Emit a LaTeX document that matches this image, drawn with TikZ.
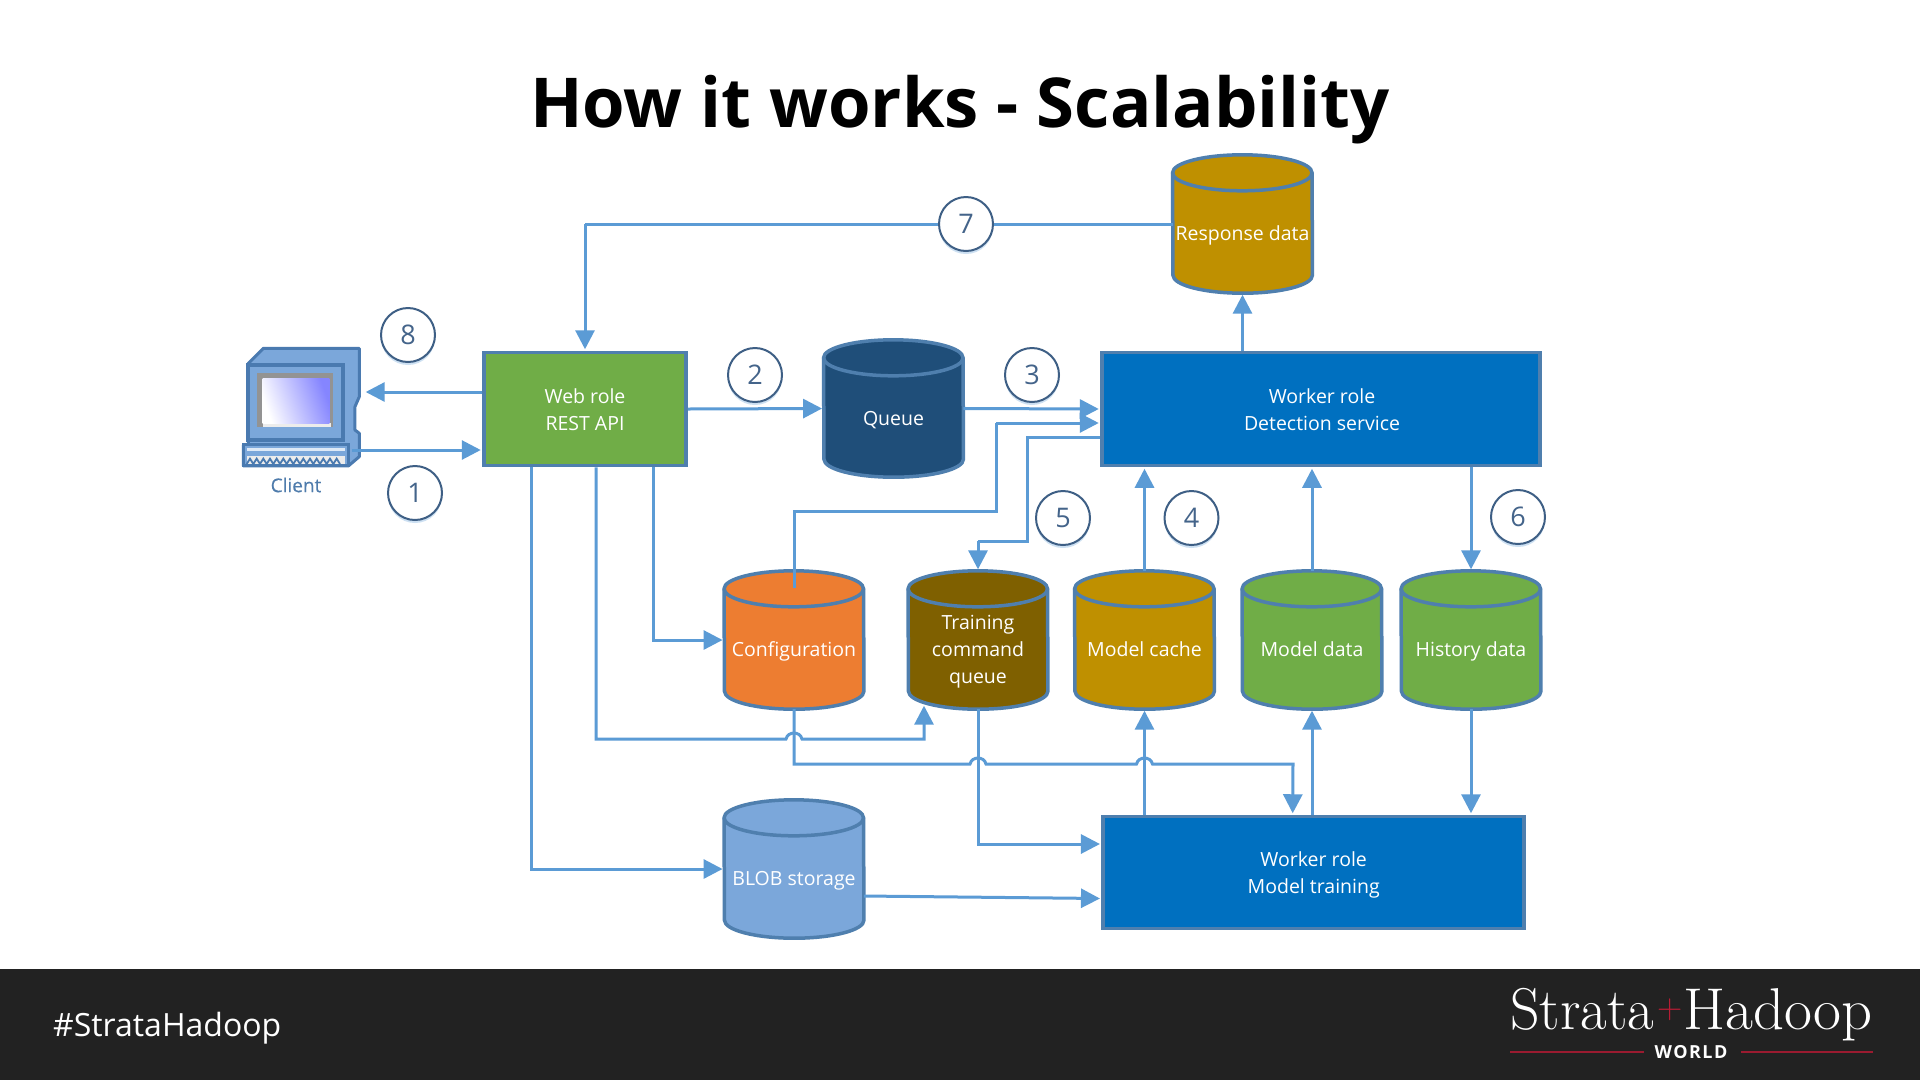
\documentclass[tikz,border=0pt]{standalone}
\usepackage{fontspec}
\usetikzlibrary{arrows.meta,shadows}
\newfontfamily\osans{Open Sans}
\definecolor{linec}{HTML}{5B9BD5}
\definecolor{rimc}{HTML}{4F7FAE}
\definecolor{digitc}{HTML}{44648A}
\definecolor{ringc}{HTML}{3E5F85}
\definecolor{bluebox}{HTML}{0070C0}
\definecolor{greenbox}{HTML}{70AD47}
\definecolor{orangec}{HTML}{ED7D31}
\definecolor{brownc}{HTML}{7F6000}
\definecolor{goldc}{HTML}{BF9000}
\definecolor{navyc}{HTML}{1F4E79}
\definecolor{blobc}{HTML}{7BA7DA}
\definecolor{barc}{HTML}{222222}
\definecolor{redc}{HTML}{9B1B30}
\definecolor{plusc}{HTML}{B81C34}
\definecolor{caseln}{HTML}{4A7AB0}
\definecolor{clientc}{HTML}{4F7CAC}
\definecolor{screenc}{HTML}{8585FF}
\tikzset{
  box/.style={draw=rimc,line width=3.5pt,inner sep=0pt,minimum height=113pt},
  cylbody/.style={inner sep=0pt,minimum width=139.5pt},
  rim/.style={draw=rimc,line width=3.5pt},
  lbl/.style={text=white,font=\osans\fontsize{19.5}{27}\selectfont,align=center,inner sep=0pt},
  conn/.style={draw=linec,line width=3pt},
  arr/.style={conn,-{Triangle[length=19pt,width=19pt]},shorten >=1.5pt},
  stepn/.style={circle,draw=ringc,line width=2pt,fill=white,minimum size=54pt,inner sep=0pt,text=digitc,font=\osans\fontsize{27}{27}\selectfont,
    drop shadow={shadow xshift=0pt,shadow yshift=-3pt,fill=linec,opacity=.3}},
}
\newcommand{\cyl}[6]{% name, cx, top, bottom, colour, label
  \node[cylbody,minimum height={(#4-#3-2)*1pt}] (#1) at (#2,{(#3+#4)/2}) {};
  \path[rim,fill=#5] ([yshift=-18pt]#1.north west) arc[x radius=69.75pt,y radius=18pt,start angle=180,end angle=0]
     -- ([yshift=18pt]#1.south east) arc[x radius=69.75pt,y radius=18pt,start angle=0,end angle=-180] -- cycle;
  \path[rim] ([yshift=-18pt]#1.north west) arc[x radius=69.75pt,y radius=18pt,start angle=180,end angle=360];
  \node[lbl] (#1t) at ([yshift=-11.3pt]#1.center) {#6};
}
\newcommand{\hop}[1]{-- ([xshift=-8pt]#1) .. controls ([xshift=-6pt,yshift=8pt]#1) and ([xshift=6pt,yshift=8pt]#1) .. ([xshift=8pt]#1)}
\begin{document}
\begin{tikzpicture}[x=1pt,y=-1pt]
\useasboundingbox (0,0) rectangle (1920,1080);
\fill[white] (0,0) rectangle (1920,1080);
\fill[barc] (0,969) rectangle (1920,1080);
\node[font=\osans\bfseries\fontsize{68.8}{70}\selectfont,inner sep=0pt] (title) at (960,110) {How it works - Scalability};

% computer icon
\node[inner sep=0pt,minimum width=117pt,minimum height=118pt] (client) at (301.5,407) {};
\begin{scope}[shift={(220,300)},x=.3333pt,y=-.3333pt]
  \fill[blobc,draw=caseln,line width=3pt,line join=round] (85,190) -- (130,145) -- (418,145) -- (418,290) -- (405,320) -- (405,390) -- (418,400) -- (418,470) -- (385,498) -- (70,498) -- (70,435) -- (85,435) -- cycle;
  \fill[blobc,draw=caseln,line width=4pt] (85,195) rectangle (370,420);
  \fill[gray!85] (110,220) rectangle (340,382);
  \fill[white!85!gray] (128,370) rectangle (334,380);
  \shade[left color=white,right color=screenc,shading angle=110] (128,235) rectangle (328,370);
  \fill[blobc,draw=caseln,line width=3pt] (70,435) rectangle (385,498);
  \fill[white!75!blobc] (80,445) rectangle (375,453);
  \fill[white!85!gray] (80,468) rectangle (375,492);
  \draw[caseln,line width=1.8pt] (80,492) \foreach \k in {0,...,13} { -- ++(10,-16) -- ++(10,16) };
  \draw[caseln,line width=1pt] (385,498) -- (385,435);
\end{scope}
\node[font=\osans\fontsize{19}{19}\selectfont\addfontfeatures{FakeBold=0.4},text=clientc,inner sep=0pt] (clientt) at (296,485) {Client};

% boxes
\node[box,fill=greenbox,minimum width=202pt] (web) at (585,409) {};
\node[box,fill=bluebox,minimum width=438pt] (det) at (1321,409) {};
\node[box,fill=bluebox,minimum width=421pt,minimum height=112pt] (train) at (1313.7,872.5) {};
\node[lbl] (webt) at ([yshift=-2.5pt]web.center) {\strut Web role\\\strut REST API};
\node[lbl] (dett) at ([xshift=1pt,yshift=-2.5pt]det.center) {\strut Worker role\\\strut Detection service};
\node[lbl] (traint) at ([yshift=-2.5pt]train.center) {\strut Worker role\\\strut Model training};

% cylinders
\cyl{queue}{893.5}{339}{478}{navyc}{\strut Queue}
\cyl{resp}{1242.5}{154}{294}{goldc}{\strut Response data}
\cyl{cfg}{794}{570}{710}{orangec}{\strut Configuration}
\cyl{tcq}{978}{570}{710}{brownc}{\strut Training\\\strut command\\\strut queue}
\cyl{cache}{1144.5}{570}{710}{goldc}{\strut Model cache}
\cyl{mdata}{1312}{570}{710}{greenbox}{\strut Model data}
\cyl{hist}{1471}{570}{710}{greenbox}{\strut History data}
\cyl{blob}{794}{799}{939}{blobc}{\strut BLOB storage}

% crossings and waypoints
\coordinate (h1) at (794,739);
\coordinate (h2) at (978,764);
\coordinate (h3) at (1144.5,764);
\coordinate (w1) at (596,739);
\coordinate (w2) at (924,739);
\coordinate (w3) at (794,764);
\coordinate (w4) at (1293,764);
\coordinate (w5) at (794,511);
\coordinate (w6) at (996,511);
\coordinate (w7) at (996,423);
\coordinate (w8) at (1027,437);
\coordinate (w9) at (1027,541);
\coordinate (w10) at (978,541);
\coordinate (w11) at (978,844);
\coordinate (w12) at (585,224);
\coordinate (w13) at (531,869);
\coordinate (w14) at (653,640);

% connectors
\draw[conn] (resp.west) -- (w12);
\draw[arr] (w12) -- (web.north);
\draw[arr] ([yshift=17pt]web.west) -- ([xshift=4pt,yshift=15pt]client.east);
\draw[arr] ([xshift=-8pt,yshift=-43pt]client.east) -- ([yshift=-41pt]web.west);
\draw[arr] (web.east) -- (queue.west);
\draw[arr] (queue.east) -- (det.west);
\draw[arr] ([xshift=-54pt]web.south) -- (w13) -- (w13 -| blob.west);
\draw[arr] ([xshift=68pt]web.south) -- (w14) -- (cfg.west);
\draw[arr] ([xshift=11pt]web.south) -- (w1) \hop{h1} -- (w2) -- ([xshift=-54pt,yshift=5pt]tcq.south);
\draw[arr] (cfg.south) -- (w3) \hop{h2} \hop{h3} -- (w4) -- ([xshift=-21pt]train.north);
\draw[arr] (tcq.south) -- (w11) -- (w11 -| train.west);
\draw[arr] ([yshift=-27pt]blob.east) -- ([yshift=-26pt]train.west);
\draw[conn] ([yshift=-17pt]cfg.north) -- (w5) -- (w6) -- (w7);
\draw[arr] (w7) -- ([yshift=-14pt]det.west);
\draw[conn] ([yshift=-28pt]det.west) -- (w8) -- (w9) -- (w10);
\draw[arr] (w10) -- (tcq.north);
\draw[arr] (cache.north) -- (cache.north |- det.south);
\draw[arr] (mdata.north) -- (mdata.north |- det.south);
\draw[arr] (hist.north |- det.south) -- (hist.north);
\draw[arr] (resp.south |- det.north) -- (resp.south);
\draw[arr] (cache.south |- train.north) -- (cache.south);
\draw[arr] (mdata.south |- train.north) -- (mdata.south);
\draw[arr] (hist.south) -- (hist.south |- train.north);

% numbered steps
\node[stepn] (s1) at (415,493) {1};
\node[stepn] (s2) at (755,375) {2};
\node[stepn] (s3) at (1032,375) {3};
\node[stepn] (s4) at (1191.5,518) {4};
\node[stepn] (s5) at (1063,518) {5};
\node[stepn] (s6) at (1518,517) {6};
\node[stepn] (s7) at (966,224) {7};
\node[stepn] (s8) at (408,335) {8};

% footer
\node[anchor=west,text=white,font=\osans\fontsize{32}{32}\selectfont,inner sep=0pt] (tag) at (53,1028) {\#StrataHadoop};
\node[anchor=base west,text=white,font=\fontsize{59}{59}\selectfont\addfontfeatures{FakeBold=0.4},inner sep=0pt,xscale=.98] (strata) at (1510,1029) {Strata};
\node[anchor=base,text=plusc,font=\fontsize{35}{35}\selectfont\addfontfeatures{FakeBold=0.4},inner sep=0pt] (plus) at (1670,1018) {+};
\node[anchor=base east,text=white,font=\fontsize{59}{59}\selectfont\addfontfeatures{FakeBold=0.4},inner sep=0pt,xscale=1.03] (hadoop) at (1873,1029) {Hadoop};
\node[anchor=base,text=white,font=\osans\bfseries\fontsize{18}{18}\selectfont\addfontfeatures{LetterSpace=8},inner sep=0pt] (world) at (1691,1058) {WORLD};
\coordinate (ra) at (1510,1052);
\coordinate (rb) at (1644,1052);
\coordinate (rc) at (1741,1052);
\coordinate (rd) at (1873,1052);
\draw[redc,line width=2pt] (ra) -- (rb) (rc) -- (rd);
\end{tikzpicture}
\end{document}
